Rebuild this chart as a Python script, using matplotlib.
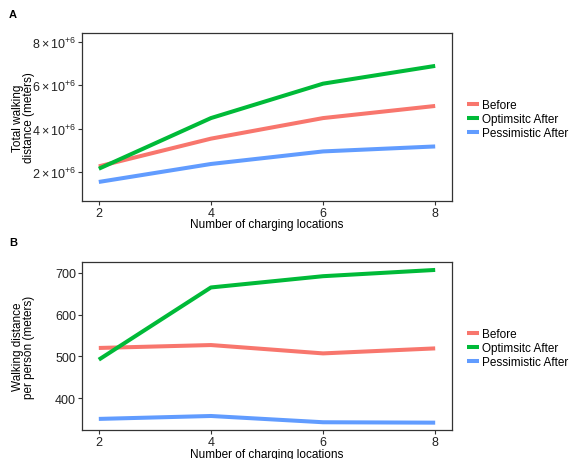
import matplotlib
matplotlib.use("Agg")
import matplotlib.pyplot as plt
from matplotlib.lines import Line2D

plt.rcParams['font.family'] = ['Liberation Sans', 'DejaVu Sans']
plt.rcParams['mathtext.fontset'] = 'custom'
plt.rcParams['mathtext.rm'] = 'Liberation Sans'
plt.rcParams['mathtext.it'] = 'Liberation Sans:italic'
plt.rcParams['mathtext.bf'] = 'Liberation Sans:bold'

# ---------------- data ----------------
locations = [2, 4, 6, 8]
series_names = ["Before", "Optimsitc After", "Pessimistic After"]
colors = ["#F8766D", "#00BA38", "#619CFF"]

total_before = [2.26e6, 3.54e6, 4.49e6, 5.05e6]
total_optimistic = [2.15e6, 4.49e6, 6.08e6, 6.90e6]
total_pessimistic = [1.54e6, 2.37e6, 2.95e6, 3.18e6]

per_before = [520, 527, 507, 519]
per_optimistic = [492, 665, 692, 707]
per_pessimistic = [350, 357, 342, 341]

total_ticks = [2e6, 4e6, 6e6, 8e6]
total_tick_labels = [r"$2\times10^{+6}$", r"$4\times10^{+6}$", r"$6\times10^{+6}$", r"$8\times10^{+6}$"]
per_ticks = [400, 500, 600, 700]
x_ticks = [2, 4, 6, 8]

W, H = 571, 460
fig = plt.figure(figsize=(W / 100, H / 100), dpi=100)

def fx(px):
    return px / W

def fy(py):
    return 1 - py / H

def style_axes(ax):
    for s in ax.spines.values():
        s.set_color("#333333")
        s.set_linewidth(0.9)
    ax.tick_params(direction="out", length=3, width=0.8, color="#333333",
                   labelsize=9, labelcolor="#222222", pad=1.2)
    ax.set_xlim(1.7, 8.3)
    ax.set_xticks(x_ticks)
    ax.set_xticklabels([str(v) for v in x_ticks])

lw = 2.9
# ---------- Panel A ----------
axA = fig.add_axes([fx(82), fy(202), fx(452) - fx(82), (202 - 34) / H])
for vals, c in zip([total_before, total_optimistic, total_pessimistic], colors):
    axA.plot(locations, vals, color=c, lw=lw, solid_capstyle="butt")
style_axes(axA)
axA.set_ylim(0.66e6, 8.42e6)
axA.set_yticks(total_ticks)
axA.set_yticklabels(total_tick_labels)

# ---------- Panel B ----------
axB = fig.add_axes([fx(82), fy(431.3), fx(452) - fx(82), (431.3 - 263.3) / H])
for vals, c in zip([per_before, per_optimistic, per_pessimistic], colors):
    axB.plot(locations, vals, color=c, lw=lw, solid_capstyle="butt")
style_axes(axB)
axB.set_ylim(322.7, 725.3)
axB.set_yticks(per_ticks)
axB.set_yticklabels([str(v) for v in per_ticks])

# labels
fig.text(fx(13), fy(15), "A", fontsize=8, fontweight="bold", ha="center", va="center")
fig.text(fx(13), fy(243), "B", fontsize=8, fontweight="bold", ha="center", va="center")

fig.text(fx(23.5), fy(118), "Total walking\ndistance (meters)", rotation=90,
         ha="center", va="center", fontsize=8.5, linespacing=0.95)
fig.text(fx(23.5), fy(347), "Walking distance\nper person (meters)", rotation=90,
         ha="center", va="center", fontsize=8.5, linespacing=0.95)

fig.text(fx(267), fy(225.5), "Number of charging locations", ha="center", va="center", fontsize=8.5)
fig.text(fx(267), fy(454.6), "Number of charging locations", ha="center", va="center", fontsize=8.5)

handles = [Line2D([0], [0], color=c, lw=lw, solid_capstyle="butt") for c in colors]
for ycenter in (120.0, 349.0):
    fig.legend(handles, series_names, loc="center left",
               bbox_to_anchor=(fx(467), fy(ycenter)), frameon=False,
               fontsize=8.5, handlelength=1.0, handletextpad=0.25,
               labelspacing=0.18, borderpad=0, borderaxespad=0)

fig.savefig("out.png", dpi=100)
